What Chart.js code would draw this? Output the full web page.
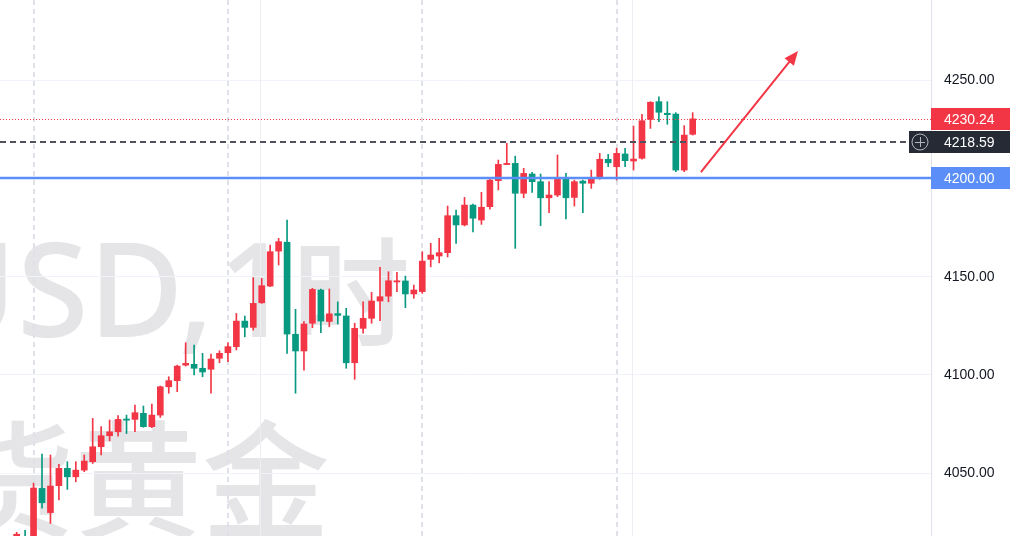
<!DOCTYPE html>
<html>
<head>
<meta charset="utf-8">
<script src="https://cdn.jsdelivr.net/npm/chart.js@4.4.1/dist/chart.umd.min.js"></script>
<style>
  html, body { margin: 0; padding: 0; background: #fff; }
  #wrap { position: relative; width: 1010px; height: 536px; overflow: hidden; }
  .wm { position: absolute; white-space: nowrap; color: #e5e5e8; font-weight: 500;
        font-family: "Noto Sans", "Noto Sans CJK SC", sans-serif; }
  .cjk { font-family: "Noto Sans CJK SC", sans-serif; }
  #wm1 { right: 600px; top: 221px; font-size: 130px; line-height: 130px; word-spacing: -30px; }
  #wm1 .cjk { font-size: 118px; }
  #wm2 { right: 680px; top: 410px; font-size: 128px; line-height: 1; }
  #chart { position: absolute; left: 0; top: 0; }
</style>
</head>
<body>
<div id="wrap">
  <div class="wm" id="wm1">XAUUSD, 1<span class="cjk">时</span></div>
  <div class="wm cjk" id="wm2">现货黄金</div>
  <canvas id="chart" width="1010" height="536"></canvas>
</div>
<script>
// XAUUSD 1h candles, first drawn candle sits at slot 2
const firstSlot = 2;
const opens = [4005, 4016, 4010, 4042.3, 4030.0, 4043.7, 4052.5, 4048.2, 4051.6, 4055.9,
  4063.5, 4069.1, 4071.1, 4077.6, 4077.4, 4080.5, 4073.7, 4079.6, 4094.0, 4097.1,
  4105.0, 4105.4, 4103.4, 4102.9, 4108.5, 4111.3, 4114.4, 4127.4, 4124.2, 4136.7,
  4145.2, 4163.0, 4167.5, 4120.7, 4112.2, 4126.3, 4143.2, 4127.2, 4131.2, 4130.0,
  4106.2, 4123.7, 4128.8, 4137.6, 4140.1, 4147.3, 4147.8, 4141.2, 4142.4, 4158.8,
  4160.5, 4162.2, 4181.0, 4176.3, 4186.4, 4178.8, 4185.6, 4198.8, 4207.0, 4207.6,
  4192.4, 4202.2, 4198.3, 4190.1, 4191.5, 4199.5, 4190.3, 4198.6, 4197.5, 4200.3,
  4209.7, 4205.9, 4212.4, 4208.8, 4210.2, 4230.0, 4239.0, 4233.1, 4232.7, 4204.2, 4222.4];
const highs = [4020, 4021, 4045, 4059.8, 4059.3, 4054.5, 4055.9, 4055.9, 4059.3, 4077.9,
  4073.7, 4077.1, 4079.3, 4079.6, 4084.7, 4084.2, 4085.2, 4094.4, 4099.1, 4105.0,
  4116.4, 4115.2, 4111.0, 4110.6, 4112.3, 4116.4, 4131.3, 4130.0, 4149.5, 4149.1,
  4166.1, 4169.5, 4178.8, 4133.4, 4127.1, 4144.1, 4143.7, 4143.7, 4137.2, 4133.9,
  4126.3, 4137.2, 4142.0, 4154.7, 4152.5, 4152.2, 4150.3, 4145.7, 4162.7, 4166.9,
  4169.5, 4185.9, 4183.9, 4190.3, 4186.9, 4192.9, 4200.0, 4209.3, 4217.8, 4211.3,
  4205.1, 4203.1, 4202.2, 4198.3, 4211.9, 4202.5, 4199.1, 4199.1, 4204.2, 4212.7,
  4212.2, 4215.3, 4215.3, 4226.6, 4232.6, 4239.0, 4241.5, 4239.0, 4233.4, 4226.8, 4233.4];
const lows = [3995, 4000, 4005, 4032.2, 4024.5, 4036.4, 4041.8, 4045.7, 4050.8, 4055.0,
  4059.3, 4066.5, 4068.9, 4070.2, 4071.1, 4073.4, 4073.2, 4078.4, 4090.7, 4091.5,
  4104.5, 4100.0, 4099.1, 4090.7, 4106.2, 4106.7, 4112.7, 4119.4, 4122.8, 4136.4,
  4144.9, 4155.9, 4111.0, 4090.7, 4102.5, 4124.0, 4121.5, 4124.5, 4125.9, 4103.4,
  4097.8, 4121.2, 4126.3, 4127.6, 4137.2, 4142.3, 4134.2, 4139.0, 4141.5, 4155.0,
  4157.0, 4160.0, 4166.9, 4175.8, 4172.8, 4176.6, 4184.3, 4194.1, 4207.0, 4164.4,
  4190.1, 4192.9, 4175.9, 4182.5, 4190.7, 4179.3, 4185.9, 4182.5, 4194.9, 4199.5,
  4205.9, 4199.1, 4205.9, 4204.2, 4209.7, 4225.4, 4228.8, 4227.5, 4203.4, 4203.4, 4222.0];
const closes = [4019, 4005, 4042.5, 4035.0, 4043.5, 4052.5, 4048.2, 4051.6, 4056.2, 4063.5,
  4069.1, 4071.1, 4077.4, 4077.0, 4080.8, 4073.7, 4079.6, 4094.0, 4097.1, 4104.5,
  4105.9, 4103.4, 4101.5, 4108.1, 4111.0, 4114.4, 4127.4, 4124.2, 4136.4, 4145.4,
  4162.7, 4167.8, 4120.8, 4112.2, 4125.9, 4143.5, 4127.4, 4131.1, 4130.3, 4106.2,
  4123.7, 4128.8, 4137.6, 4139.8, 4147.9, 4147.9, 4141.2, 4143.2, 4157.9, 4161.0,
  4162.2, 4181.0, 4176.3, 4186.4, 4179.7, 4185.3, 4199.1, 4207.1, 4207.6, 4192.4,
  4202.5, 4198.3, 4190.1, 4191.5, 4199.5, 4190.1, 4198.3, 4197.5, 4200.3, 4209.7,
  4207.9, 4212.7, 4209.0, 4209.8, 4229.3, 4238.7, 4233.6, 4232.4, 4204.2, 4222.0, 4230.24];

const priceTicks = [4050, 4100, 4150, 4200, 4250];
const lastPrice = 4230.24;
const markedPrice = 4218.59;
const levelPrice = 4200.00;
const sessionBreaks = [4, 27, 50, 73];
const timeGrid = [30.8, 74.85];
const arrowStart = [82.97, 4203.2];
const arrowEnd = [94.46, 4264.7];

const UP = "#f23645";
const DOWN = "#089981";
const candleColors = closes.map((c, i) => c >= opens[i] ? UP : DOWN);

const wicks = highs.map((h, i) => ({ x: firstSlot + i, y: [lows[i], h] }));
const bodies = opens.map((o, i) => ({
  x: firstSlot + i,
  y: [Math.min(o, closes[i]), Math.max(o, closes[i])]
}));

const overlay = {
  id: "overlay",
  beforeDatasetsDraw(chart) {
    const { ctx, chartArea: a, scales: { x } } = chart;
    ctx.save();
    ctx.lineWidth = 1;
    ctx.strokeStyle = "#eceef3";
    timeGrid.forEach(v => {
      const px = Math.round(x.getPixelForValue(v)) + 0.5;
      ctx.beginPath(); ctx.moveTo(px, a.top); ctx.lineTo(px, a.bottom); ctx.stroke();
    });
    ctx.lineWidth = 2;
    ctx.strokeStyle = "#dfe1e8";
    ctx.setLineDash([5, 4]);
    sessionBreaks.forEach(v => {
      const px = Math.round(x.getPixelForValue(v));
      ctx.beginPath(); ctx.moveTo(px, a.top); ctx.lineTo(px, a.bottom); ctx.stroke();
    });
    ctx.restore();
  },
  afterDatasetsDraw(chart) {
    const { ctx, chartArea: a, scales: { x, y } } = chart;
    ctx.save();
    ctx.beginPath(); ctx.rect(a.left, a.top, a.right - a.left, a.bottom - a.top); ctx.clip();

    // last price, dotted
    let py = Math.round(y.getPixelForValue(lastPrice)) + 0.5;
    ctx.strokeStyle = UP; ctx.lineWidth = 1; ctx.setLineDash([1, 2]);
    ctx.beginPath(); ctx.moveTo(a.left, py); ctx.lineTo(a.right, py); ctx.stroke();

    // marked level, dashed
    py = Math.round(y.getPixelForValue(markedPrice));
    ctx.strokeStyle = "#4f525c"; ctx.lineWidth = 2; ctx.setLineDash([6, 4]);
    ctx.beginPath(); ctx.moveTo(a.left, py); ctx.lineTo(a.right, py); ctx.stroke();

    // 4200 level
    py = Math.round(y.getPixelForValue(levelPrice));
    ctx.strokeStyle = "#5b8ef7"; ctx.lineWidth = 2.5; ctx.setLineDash([]);
    ctx.beginPath(); ctx.moveTo(a.left, py); ctx.lineTo(a.right, py); ctx.stroke();

    // arrow
    const x0 = x.getPixelForValue(arrowStart[0]), y0 = y.getPixelForValue(arrowStart[1]);
    const x1 = x.getPixelForValue(arrowEnd[0]), y1 = y.getPixelForValue(arrowEnd[1]);
    const ang = Math.atan2(y1 - y0, x1 - x0);
    ctx.strokeStyle = UP; ctx.fillStyle = UP; ctx.lineWidth = 2;
    ctx.beginPath(); ctx.moveTo(x0, y0);
    ctx.lineTo(x1 - 10 * Math.cos(ang), y1 - 10 * Math.sin(ang)); ctx.stroke();
    ctx.beginPath();
    ctx.moveTo(x1, y1);
    ctx.lineTo(x1 - 14 * Math.cos(ang) + 6 * Math.sin(ang), y1 - 14 * Math.sin(ang) - 6 * Math.cos(ang));
    ctx.lineTo(x1 - 14 * Math.cos(ang) - 6 * Math.sin(ang), y1 - 14 * Math.sin(ang) + 6 * Math.cos(ang));
    ctx.closePath(); ctx.fill();
    ctx.restore();
  },
  afterDraw(chart) {
    const { ctx, chartArea: a, scales: { y } } = chart;
    const w = chart.width;
    ctx.save();
    ctx.font = "14px 'Liberation Sans', Arial, sans-serif";
    ctx.textBaseline = "middle";
    const box = (val, bg, left) => {
      const cy = Math.round(y.getPixelForValue(val));
      ctx.fillStyle = bg;
      ctx.fillRect(left, cy - 11, w - left, 22);
      ctx.fillStyle = "#ffffff";
      ctx.fillText(val.toFixed(2), a.right + 13, cy + 1);
      return cy;
    };
    box(lastPrice, UP, a.right);
    const cy = box(markedPrice, "#262a35", a.right - 22);
    // crosshair icon on the marked level
    const cx = a.right - 11;
    ctx.strokeStyle = "#b2b5be"; ctx.lineWidth = 1;
    ctx.beginPath(); ctx.arc(cx, cy, 8, 0, Math.PI * 2); ctx.stroke();
    ctx.beginPath();
    ctx.moveTo(cx - 5, cy + 0.5); ctx.lineTo(cx + 5, cy + 0.5);
    ctx.moveTo(cx + 0.5, cy - 5); ctx.lineTo(cx + 0.5, cy + 5);
    ctx.stroke();
    box(levelPrice, "#5b8ef7", a.right);
    ctx.restore();
  }
};

new Chart(document.getElementById("chart"), {
  type: "bar",
  data: {
    datasets: [
      { data: wicks, backgroundColor: candleColors, barThickness: 1, grouped: false, order: 2 },
      { data: bodies, backgroundColor: candleColors, barThickness: 6, grouped: false, minBarLength: 1, order: 1 }
    ]
  },
  options: {
    responsive: false,
    animation: false,
    layout: { padding: 0 },
    plugins: { legend: { display: false }, tooltip: { enabled: false } },
    scales: {
      x: { type: "linear", min: 0.03, max: 110.2, offset: false, display: false },
      y: {
        position: "right",
        min: 4018.1,
        max: 4290.7,
        afterBuildTicks: s => { s.ticks = priceTicks.map(v => ({ value: v })); },
        afterFit: s => { s.width = 79; s.paddingTop = 0; s.paddingBottom = 0; },
        grid: { color: "#f0f3fa", drawTicks: false },
        border: { color: "#e0e3eb" },
        ticks: {
          padding: 13,
          color: "#131722",
          font: { size: 14, family: "'Liberation Sans', Arial, sans-serif" },
          callback: v => v.toFixed(2)
        }
      }
    }
  },
  plugins: [overlay]
});
</script>
</body>
</html>
